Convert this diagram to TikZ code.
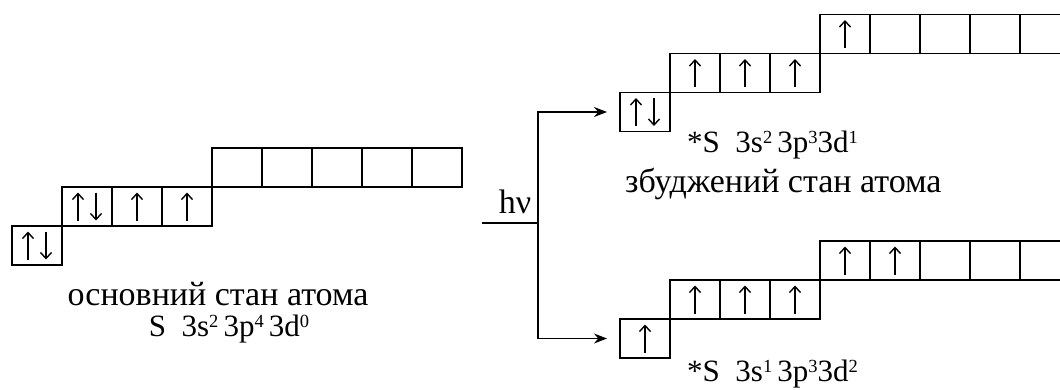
\documentclass[tikz,border=0pt]{standalone}
\usepackage{fontspec}
\setmainfont{Liberation Serif}
\usetikzlibrary{arrows.meta,calc,positioning}

\tikzset{
  orb/.style={draw,line width=1.3pt,minimum width=50pt,minimum height=39pt,
    inner sep=0pt,outer sep=0pt},
  spin/.style={line width=1.2pt,-{Straight Barb[length=6pt,width=11pt,line width=1.4pt]}},
  lbl/.style={font=\fontsize{34}{38}\selectfont,inner sep=0pt,anchor=base},
  conf/.style={lbl,font=\fontsize{31}{35}\selectfont},
  jump/.style={line width=1.3pt},
}
% spin arrows inside a cell, optional sideways shift
\newcommand{\spinup}[2][0]{\draw[spin] ($(#2)+(#1,14)$) -- ($(#2)+(#1,-14)$);}
\newcommand{\spindn}[2][0]{\draw[spin] ($(#2)+(#1,-14)$) -- ($(#2)+(#1,14)$);}
% occupation number
\newcommand{\occ}[1]{\raisebox{9pt}{\fontsize{18.5}{19}\selectfont #1}}

\begin{document}
\begin{tikzpicture}[x=1pt,y=-1pt]
\clip (0,0) rectangle (1060,389);
% ground state
\node[orb] (gs-s) at (37,245.5) {};
\foreach \i in {1,...,3} \node[orb] (gs-p\i) at ({37+50*\i},206.5) {};
\foreach \i in {1,...,5} \node[orb] (gs-d\i) at ({187+50*\i},167.5) {};
\spinup[-9]{gs-s} \spindn[9]{gs-s}
\spinup[-9]{gs-p1} \spindn[9]{gs-p1}
\spinup{gs-p2} \spinup{gs-p3}
\node[lbl] (gs-name) at (218,305) {основний стан атома};
\node[conf] (gs-conf) at (229,336)
  {S\ \ 3s\occ{2}\,3p\occ{4}\,3d\occ{0}};
% excited state, 3s2 3p3 3d1
\node[orb] (ea-s) at (645,112) {};
\foreach \i in {1,...,3} \node[orb] (ea-p\i) at ({645+50*\i},73) {};
\foreach \i in {1,...,5} \node[orb] (ea-d\i) at ({795+50*\i},34) {};
\spinup[-9]{ea-s} \spindn[9]{ea-s}
\spinup{ea-p1} \spinup{ea-p2} \spinup{ea-p3} \spinup{ea-d1}
\node[conf,anchor=base west] (ea-conf) at (687,152)
  {*S\ \ 3s\occ{2}\,3p\occ{3}3d\occ{1}};
\node[lbl,anchor=base west] (ea-name) at (625,192) {збуджений стан атома};
% excited state, 3s1 3p3 3d2
\node[orb] (eb-s) at (645,338.5) {};
\foreach \i in {1,...,3} \node[orb] (eb-p\i) at ({645+50*\i},299.5) {};
\foreach \i in {1,...,5} \node[orb] (eb-d\i) at ({795+50*\i},260.5) {};
\spinup{eb-s}
\spinup{eb-p1} \spinup{eb-p2} \spinup{eb-p3} \spinup{eb-d1} \spinup{eb-d2}
\node[conf,anchor=base west] (eb-conf) at (687,381)
  {*S\ \ 3s\occ{1}\,3p\occ{3}3d\occ{2}};
% excitation
\coordinate (hv-in) at (482,223);
\coordinate (fork) at (538,223);
\node[lbl] (hv) at (515,213) {hν};
\draw[jump] (hv-in) -- (fork);
\draw[jump,-{Stealth[length=13pt,width=10pt]},shorten >=13pt] (fork) |- (ea-s.west);
\draw[jump,-{Stealth[length=13pt,width=10pt]},shorten >=13pt] (fork) |- (eb-s.west);
\end{tikzpicture}
\end{document}
